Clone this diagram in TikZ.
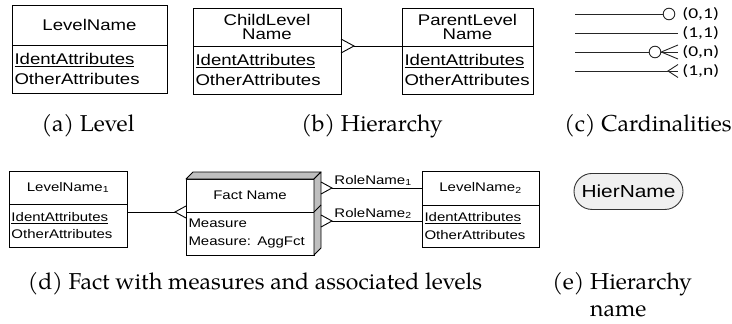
\documentclass[tikz,border=0pt]{standalone}
\usepackage{fontspec}
\setmainfont{TeX Gyre Pagella}
\newfontfamily\boxfont[FakeStretch=1.2]{Liberation Sans}
\newfontfamily\cardfont[FakeStretch=1.3]{Carlito}
\usetikzlibrary{shapes.misc}

\begin{document}
\begin{tikzpicture}[x=1pt,y=-1pt,
  line width=0.9pt,
  ent/.style={draw=black, line width=0.9pt, outer sep=0pt, inner sep=0pt, anchor=north west},
  entname/.style={ent, align=center},
  entattr/.style={ent, inner xsep=2.5pt, align=left},
  lg/.style={font=\boxfont\fontsize{15.5}{20.5}\selectfont},
  lgname/.style={font=\boxfont\fontsize{15.5}{14.5}\selectfont},
  sm/.style={font=\boxfont\fontsize{12.5}{17.5}\selectfont},
  conn/.style={draw=black, line width=0.9pt},
  face/.style={fill=black!25, draw=black, line width=0.9pt, line join=round},
  cardtxt/.style={font=\cardfont\fontsize{15}{16}\selectfont, inner sep=0pt, anchor=west},
  cardline/.style={draw=black!85, line width=0.9pt},
  role/.style={font=\boxfont\fontsize{12.5}{14}\selectfont, inner sep=0pt, anchor=base west},
  pill/.style={rounded rectangle, draw=black!80, fill=black!6, line width=0.9pt,
    minimum width=109, minimum height=36, inner sep=0pt, anchor=north west,
    font=\boxfont\fontsize{17.4}{20}\selectfont},
  subcap/.style={font=\fontsize{23}{27}\selectfont, inner sep=0pt, anchor=base}
]
\useasboundingbox (0,0) rectangle (732,324);

% ---------- (a) a single level ----------
\node[entname, lg, minimum width=155, minimum height=40] (aT) at (12,5) {LevelName};
\node[entattr, lg, text width=150, minimum height=48] (aA) at (aT.south west)
  {\underline{IdentAttributes}\\OtherAttributes};

% ---------- (b) child and parent levels ----------
\node[entname, lgname, minimum width=148, minimum height=38] (bcT) at (193,8) {ChildLevel\\Name};
\node[entattr, lg, text width=143, minimum height=48] (bcA) at (bcT.south west)
  {\underline{IdentAttributes}\\OtherAttributes};
\node[entname, lgname, minimum width=131, minimum height=38] (bpT) at (402,8) {ParentLevel\\Name};
\node[entattr, lg, text width=126, minimum height=48] (bpA) at (bpT.south west)
  {\underline{IdentAttributes}\\OtherAttributes};
\path (bcA.north east) ++(13,0) coordinate (bk);
\draw[conn] (bk) -- (bpA.north west);
\draw[conn] (bcA.north east) ++(0,-7) -- (bk) -- ++(-13,7);

% ---------- (c) cardinality symbols ----------
\coordinate (c1s) at (575,14);
\coordinate (c2s) at (575,33);
\coordinate (c2e) at (678,33);
\coordinate (c3s) at (575,52);
\coordinate (c3e) at (678,52);
\coordinate (c4s) at (575,71);
\coordinate (c4e) at (678,71);
\coordinate (c4a) at (668,71);
\node[circle, draw=black!85, line width=0.9pt, minimum size=11.6, inner sep=0pt] (o1) at (669,14) {};
\node[circle, draw=black!85, line width=0.9pt, minimum size=11.6, inner sep=0pt] (o3) at (655,52) {};
\draw[cardline] (c1s) -- (o1);
\draw[cardline] (c2s) -- (c2e);
\draw[cardline] (c3s) -- (o3);
\draw[cardline] (o3.east) -- (c3e);
\draw[cardline] ([yshift=7pt]c3e) -- (o3.east) -- ([yshift=-7pt]c3e);
\draw[cardline] (c4s) -- (c4e);
\draw[cardline] ([yshift=6.5pt]c4e) -- (c4a) -- ([yshift=-6.5pt]c4e);
\node[cardtxt] (t1) at (682,14) {(0,1)};
\node[cardtxt] (t2) at (682,33) {(1,1)};
\node[cardtxt] (t3) at (682,52) {(0,n)};
\node[cardtxt] (t4) at (682,71) {(1,n)};

% ---------- (d) fact with measures and its levels ----------
\node[entname, sm, minimum width=118, minimum height=33] (l1T) at (9,171) {LevelName\textsubscript{1}};
\node[entattr, sm, text width=113, minimum height=43] (l1A) at (l1T.south west)
  {\underline{IdentAttributes}\\OtherAttributes};
\node[entname, sm, minimum width=128, minimum height=33] (fT) at (186,179) {Fact Name};
\node[entattr, sm, text width=123, minimum height=43] (fA) at (fT.south west)
  {Measure\\Measure: AggFct};
\node[entname, sm, minimum width=117, minimum height=34] (l2T) at (422,171) {LevelName\textsubscript{2}};
\node[entattr, sm, text width=112, minimum height=42] (l2A) at (l2T.south west)
  {\underline{IdentAttributes}\\OtherAttributes};
% depth of the fact box
\filldraw[face] (fT.north west) -- ++(7,-7) -- ++(128,0) -- (fT.north east) -- cycle;
\filldraw[face] (fT.north east) -- ++(7,-7) -- ++(0,76) -- (fA.south east) -- cycle;
\draw[conn] (fA.north east) -- ++(7,-7);
% link to the first level
\path (fA.north west) ++(-11,0) coordinate (fk);
\draw[conn] (l1A.east |- fk) -- (fk);
\draw[conn] (fA.north west) ++(0,-6) -- (fk) -- ++(11,6);
% roles towards the second level
\coordinate (rA) at (332,188);
\coordinate (rB) at (332,221);
\draw[conn] (rA) -- (rA -| l2T.west);
\draw[conn] (rB) -- (rB -| l2A.west);
\draw[conn] (rA) ++(-11,-6) -- (rA) -- ++(-11,6);
\draw[conn] (rB) ++(-11,-6) -- (rB) -- ++(-11,6);
\node[role] (r1) at (334,184) {RoleName\textsubscript{1}};
\node[role] (r2) at (334,217) {RoleName\textsubscript{2}};

% ---------- (e) hierarchy name ----------
\node[pill] (hn) at (592,173) {HierName};

% ---------- captions ----------
\node[subcap] (capA) at (88,131) {(a) Level};
\node[subcap] (capB) at (372,131) {(b) Hierarchy};
\node[subcap] (capC) at (648,131) {(c) Cardinalities};
\node[subcap] (capD) at (255,289) {(d) Fact with measures and associated levels};
\node[subcap, anchor=base west] (capE1) at (552,289) {(e) Hierarchy};
\node[subcap, anchor=base west] (capE2) at (552,316) {\phantom{(e)} name};
\end{tikzpicture}
\end{document}
